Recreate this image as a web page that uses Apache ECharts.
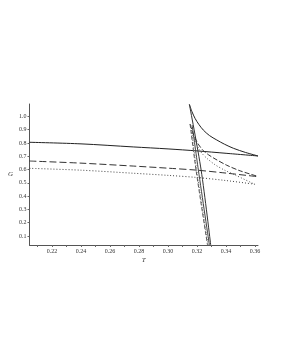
<!DOCTYPE html>
<html><head><meta charset="utf-8">
<script src="https://cdn.jsdelivr.net/npm/echarts@6/dist/echarts.min.js"></script>
<style>html,body{margin:0;padding:0;background:#fff}#c{width:281px;height:363px}</style>
</head><body><div id="c"></div>
<script>
// x = T, y = G
const xTicks = [0.22, 0.24, 0.26, 0.28, 0.30, 0.32, 0.34, 0.36];
const xMinorTicks = [0.21, 0.22, 0.23, 0.24, 0.25, 0.26, 0.27, 0.28, 0.29, 0.30, 0.31, 0.32, 0.33, 0.34, 0.35, 0.36];
const yTicks = [0.1, 0.2, 0.3, 0.4, 0.5, 0.6, 0.7, 0.8, 0.9, 1.0];

const solidFlat = [[0.2045,0.805],[0.24,0.793],[0.276,0.770],[0.30,0.755],[0.32,0.740],[0.34,0.722],[0.362,0.702]];
const solidDecay = [[0.3147,1.090],[0.3165,1.035],[0.3186,0.985],[0.3212,0.940],[0.3243,0.897],[0.3285,0.856],[0.3336,0.822],[0.3390,0.790],[0.3450,0.760],[0.3535,0.728],[0.362,0.702]];
const solidSteepA = [[0.3147,1.090],[0.3228,0.596],[0.3294,0.032]];
const solidSteepB = [[0.3166,0.935],[0.3209,0.596],[0.3285,0.032]];

const dashFlat = [[0.2045,0.664],[0.24,0.648],[0.276,0.626],[0.30,0.610],[0.32,0.595],[0.34,0.573],[0.362,0.546]];
const dashDecay = [[0.3152,0.942],[0.3168,0.885],[0.3186,0.835],[0.3212,0.785],[0.3243,0.742],[0.3280,0.710],[0.3324,0.680],[0.3405,0.632],[0.3497,0.590],[0.362,0.548]];
const dashSteep = [[0.3152,0.942],[0.3193,0.596],[0.3272,0.032]];

const dotFlat = [[0.2045,0.609],[0.24,0.595],[0.276,0.572],[0.30,0.556],[0.32,0.540],[0.34,0.517],[0.36,0.489]];
const dotDecay = [[0.3162,0.897],[0.3185,0.820],[0.3209,0.762],[0.3235,0.720],[0.3270,0.682],[0.3324,0.636],[0.3390,0.595],[0.3462,0.559],[0.3595,0.490]];
const dotSteep = [[0.3162,0.897],[0.3197,0.596],[0.3276,0.032]];

const chart = echarts.init(document.getElementById('c'), null, {renderer:'canvas'});
const font = 'Liberation Serif';
function ln(data, color, dash){
  return {type:'line', data, showSymbol:false, smooth:0.3, silent:true, animation:false,
    lineStyle:{color, width:1, type: dash}};
}
const lineAxis = {show:true, lineStyle:{color:'#555', width:1}};
const labelStyle = {fontFamily:font, fontSize:6, color:'#333', margin:3};
chart.setOption({
  animation:false,
  backgroundColor:'#fff',
  grid:{left:29.5, top:104, right:23, bottom:118, containLabel:false},
  xAxis:{
    type:'value', min:0.2045, max:0.362,
    axisLine:lineAxis, splitLine:{show:false},
    axisTick:{show:true, length:2, customValues:xMinorTicks, lineStyle:{color:'#666'}},
    axisLabel:Object.assign({}, labelStyle, {customValues:xTicks, formatter:v=>v.toFixed(2)}),
    name:'T', nameLocation:'middle', nameGap:12,
    nameTextStyle:{fontFamily:font, fontStyle:'italic', fontSize:7, color:'#333'}
  },
  yAxis:{
    type:'value', min:0.032, max:1.093,
    axisLine:lineAxis, splitLine:{show:false},
    axisTick:{show:true, length:2, customValues:yTicks, lineStyle:{color:'#666'}},
    axisLabel:Object.assign({}, labelStyle, {customValues:yTicks, formatter:v=>v.toFixed(1)}),
    name:'G', nameLocation:'middle', nameGap:14, nameRotate:0,
    nameTextStyle:{fontFamily:font, fontStyle:'italic', fontSize:7, color:'#333'}
  },
  series:[
    ln(solidFlat,'#222','solid'),
    ln(solidDecay,'#222','solid'),
    ln(solidSteepA,'#333','solid'),
    ln(solidSteepB,'#444','solid'),
    ln(dashFlat,'#333',[7,3]),
    ln(dashDecay,'#333',[5,2]),
    ln(dashSteep,'#555',[4,2]),
    ln(dotFlat,'#444',[1,2]),
    ln(dotDecay,'#555',[1,2]),
    ln(dotSteep,'#666',[1,1.5])
  ]
});
</script></body></html>
